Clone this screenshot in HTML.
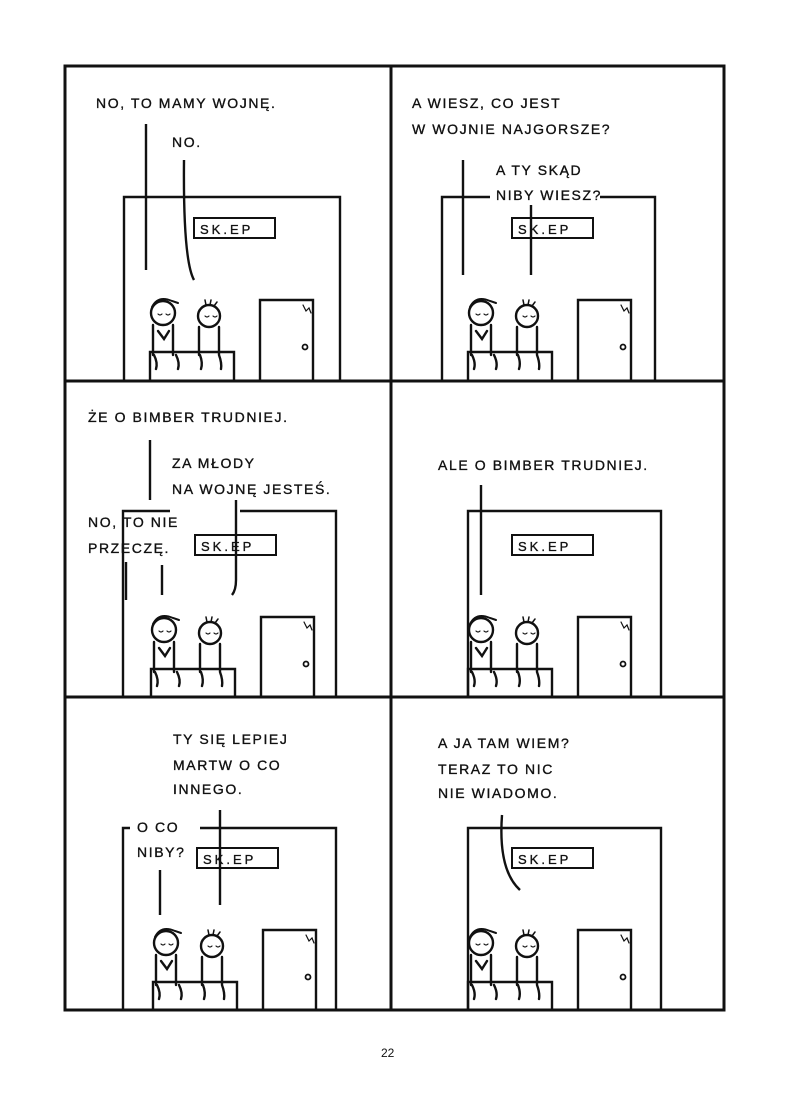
<!DOCTYPE html>
<html><head><meta charset="utf-8"><style>
html,body{margin:0;padding:0;background:#fff;}
svg{display:block;}
text{font-family:"Liberation Sans","DejaVu Sans",sans-serif;font-size:14px;letter-spacing:1.6px;fill:#111;stroke:#111;stroke-width:0.35px;}
.s{font-size:13px;letter-spacing:3px;}
</style></head><body>
<svg width="800" height="1103" viewBox="0 0 800 1103" xmlns="http://www.w3.org/2000/svg">
<defs>
<g id="fig" fill="none" stroke="#111" stroke-width="2.4" stroke-linecap="round">
  <rect x="70" y="21" width="81" height="20" stroke-width="2"/>
  <text x="76" y="37" class="s" stroke="none">SK.EP</text>
  <path d="M136 183 V103 H189 V183"/>
  <circle cx="181" cy="150" r="2.5" stroke-width="1.8"/>
  <path d="M179 108 l3 6 3-3 2 5" stroke-width="1.2"/>
  <path d="M26 183 V155 H110 V183"/>
  <path d="M29 128 V158 M49 128 V158 M75 130 V158 M95 130 V158 M34 134 L40 142 L45 134 M30 158 q4 8 2 14 M52 158 q4 8 2 14 M76 158 q3 8 1 14 M95 158 q3 8 2 14"/>
  <circle cx="39" cy="116" r="12"/>
  <path d="M28 110 q6 -12 20 -6 l6 2" stroke-width="2"/>
  <circle cx="85" cy="119" r="11"/>
  <path d="M82 108 l-1 -5 M86 108 l1 -5 M90 109 l3 -4" stroke-width="1.5"/>
  <path d="M34 117 q2 2 4 0 M42 117 q2 2 4 0 M81 119 q2 2 4 0 M89 119 q2 2 4 0" stroke-width="1.2"/>
</g>
</defs>
<g fill="none" stroke="#111" stroke-width="2.4">
  <path d="M124 381 V197 H340 V381"/>
  <path d="M442 381 V197 H490 M600 197 H655 V381"/>
  <path d="M123 697 V511 H170 M240 511 H336 V697"/>
  <path d="M468 697 V511 H661 V697"/>
  <path d="M123 1010 V828 H130 M200 828 H336 V1010"/>
  <path d="M468 1010 V828 H661 V1010"/>
  <path d="M146 124 V270 M184 160 Q183 260 194 280"/>
  <path d="M463 160 V275 M531 205 V275"/>
  <path d="M150 440 V500 M236 500 V580 Q236 590 232 595 M126 562 V600 M162 565 V595"/>
  <path d="M481 485 V595"/>
  <path d="M220 810 V905 M160 870 V915"/>
  <path d="M502 815 Q498 870 520 890"/>
</g>
<use href="#fig" transform="translate(124,197)"/>
<use href="#fig" transform="translate(442,197)"/>
<use href="#fig" transform="translate(125,514)"/>
<use href="#fig" transform="translate(442,514)"/>
<use href="#fig" transform="translate(127,827)"/>
<use href="#fig" transform="translate(442,827)"/>
<g fill="none" stroke="#111" stroke-width="3">
  <rect x="65" y="66" width="659" height="944"/>
  <path d="M391 66 V1010 M65 381 H724 M65 697 H724"/>
</g>
<text x="96" y="108">NO, TO MAMY WOJNĘ.</text>
<text x="172" y="147">NO.</text>
<text x="412" y="108">A WIESZ, CO JEST</text>
<text x="412" y="134">W WOJNIE NAJGORSZE?</text>
<text x="496" y="175">A TY SKĄD</text>
<text x="496" y="200">NIBY WIESZ?</text>
<text x="88" y="422">ŻE O BIMBER TRUDNIEJ.</text>
<text x="172" y="468">ZA MŁODY</text>
<text x="172" y="494">NA WOJNĘ JESTEŚ.</text>
<text x="88" y="527">NO, TO NIE</text>
<text x="88" y="553">PRZECZĘ.</text>
<text x="438" y="470">ALE O BIMBER TRUDNIEJ.</text>
<text x="173" y="744">TY SIĘ LEPIEJ</text>
<text x="173" y="770">MARTW O CO</text>
<text x="173" y="794">INNEGO.</text>
<text x="137" y="832">O CO</text>
<text x="137" y="857">NIBY?</text>
<text x="438" y="748">A JA TAM WIEM?</text>
<text x="438" y="774">TERAZ TO NIC</text>
<text x="438" y="798">NIE WIADOMO.</text>
<text x="381" y="1057" style="font-size:12px;letter-spacing:0;stroke:none">22</text>
</svg>
</body></html>
